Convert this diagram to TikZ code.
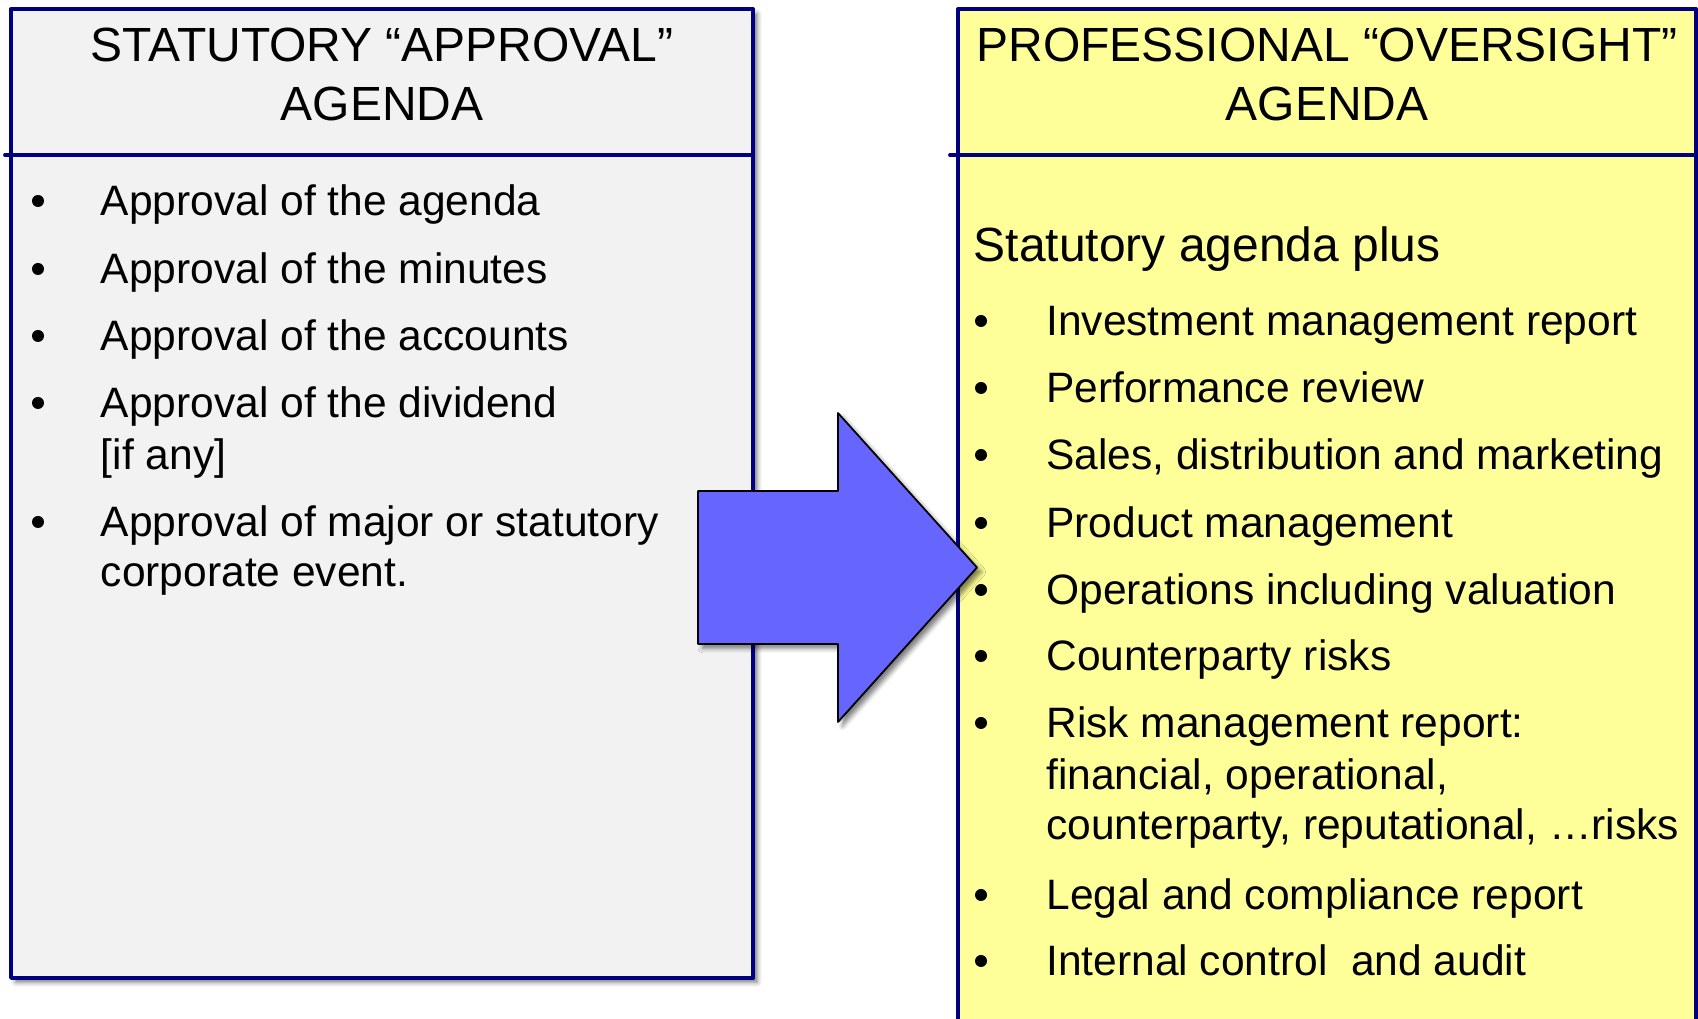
\documentclass[tikz,border=0pt]{standalone}
\usepackage{fontspec}
\usepackage{tkz-euclide}
\usetikzlibrary{shadows.blur}
\setmainfont{Liberation Sans}
\definecolor{navyline}{RGB}{0,0,128}
\definecolor{greyfill}{RGB}{242,242,242}
\definecolor{yellowfill}{RGB}{255,255,153}
\definecolor{arrowblue}{RGB}{102,102,255}

\begin{document}
\begin{tikzpicture}[
    boxshadow/.style={blur shadow={shadow xshift=2.5pt, shadow yshift=-2.5pt, shadow blur radius=2.5pt, shadow opacity=50}},
    headtext/.style={align=center, inner sep=0pt, font=\fontsize{27.3}{33.3}\selectfont},
    itemtext/.style={anchor=base west, inner sep=0pt, font=\fontsize{24.2}{29}\selectfont},
    bulletsym/.style={circle, fill=black, inner sep=0pt, minimum size=0.24cm, yshift=0.30cm}]
    \useasboundingbox (0,0) rectangle (33.96,20.38);
    % the two agenda boxes
    \tkzDefPoints{0.22/20.20/A, 15.06/20.20/B, 15.06/0.82/C, 0.22/0.82/D}
    \tkzDefPoints{19.16/20.20/P, 33.92/20.20/Q, 33.92/-0.6/R, 19.16/-0.6/S}
    \tkzDrawPolygon[draw=navyline, line width=2.2pt, fill=greyfill, boxshadow](A,B,C,D)
    \tkzDrawPolygon[draw=navyline, line width=2.2pt, fill=yellowfill, boxshadow](P,Q,R,S)
    \tkzDefPoints{0.10/17.28/L1, 15.06/17.28/L2, 19.00/17.28/R1, 33.92/17.28/R2}
    \tkzDrawSegments[navyline, line width=2.2pt](L1,L2 R1,R2)
    % headings
    \node[headtext] (lefthead) at (7.64,18.89) {STATUTORY “APPROVAL”\\AGENDA};
    \node[headtext] (righthead) at (26.54,18.89) {PROFESSIONAL “OVERSIGHT”\\AGENDA};
    % statutory items
    \node[bulletsym] (lb1) at (0.76,16.06) {};
    \node[itemtext] (li1) at (2.01,16.06) {Approval of the agenda};
    \node[bulletsym] (lb2) at (0.76,14.70) {};
    \node[itemtext] (li2) at (2.01,14.70) {Approval of the minutes};
    \node[bulletsym] (lb3) at (0.76,13.36) {};
    \node[itemtext] (li3) at (2.01,13.36) {Approval of the accounts};
    \node[bulletsym] (lb4) at (0.76,12.02) {};
    \node[itemtext] (li4) at (2.01,12.02) {Approval of the dividend};
    \node[itemtext] (li4b) at (2.01,10.98) {[if any]};
    \node[bulletsym] (lb5) at (0.76,9.64) {};
    \node[itemtext] (li5) at (2.01,9.64) {Approval of major or statutory};
    \node[itemtext] (li5b) at (2.01,8.64) {corporate event.};
    % oversight items
    \node[itemtext, font=\fontsize{27.3}{33.3}\selectfont] (plus) at (19.47,15.14) {Statutory agenda plus};
    \node[bulletsym] (rb1) at (19.62,13.66) {};
    \node[itemtext] (ri1) at (20.92,13.66) {Investment management report};
    \node[bulletsym] (rb2) at (19.62,12.32) {};
    \node[itemtext] (ri2) at (20.92,12.32) {Performance review};
    \node[bulletsym] (rb3) at (19.62,10.98) {};
    \node[itemtext] (ri3) at (20.92,10.98) {Sales, distribution and marketing};
    \node[bulletsym] (rb4) at (19.62,9.62) {};
    \node[itemtext] (ri4) at (20.92,9.62) {Product management};
    \node[bulletsym] (rb5) at (19.62,8.28) {};
    \node[itemtext] (ri5) at (20.92,8.28) {Operations including valuation};
    \node[bulletsym] (rb6) at (19.62,6.96) {};
    \node[itemtext] (ri6) at (20.92,6.96) {Counterparty risks};
    \node[bulletsym] (rb7) at (19.62,5.62) {};
    \node[itemtext] (ri7) at (20.92,5.62) {Risk management report:};
    \node[itemtext] (ri7b) at (20.92,4.58) {financial, operational,};
    \node[itemtext] (ri7c) at (20.92,3.58) {counterparty, reputational, …risks};
    \node[bulletsym] (rb8) at (19.62,2.18) {};
    \node[itemtext] (ri8) at (20.92,2.18) {Legal and compliance report};
    \node[bulletsym] (rb9) at (19.62,0.86) {};
    \node[itemtext] (ri9) at (20.92,0.86) {Internal control~ and audit};
    % block arrow between the boxes
    \tkzDefPoints{13.96/10.56/T1, 16.76/10.56/T2, 16.76/12.12/T3, 19.54/9.03/T4, 16.76/5.94/T5, 16.76/7.50/T6, 13.96/7.50/T7}
    \tkzDrawPolygon[draw=black, line width=1pt, fill=arrowblue, boxshadow](T1,T2,T3,T4,T5,T6,T7)
\end{tikzpicture}
\end{document}
